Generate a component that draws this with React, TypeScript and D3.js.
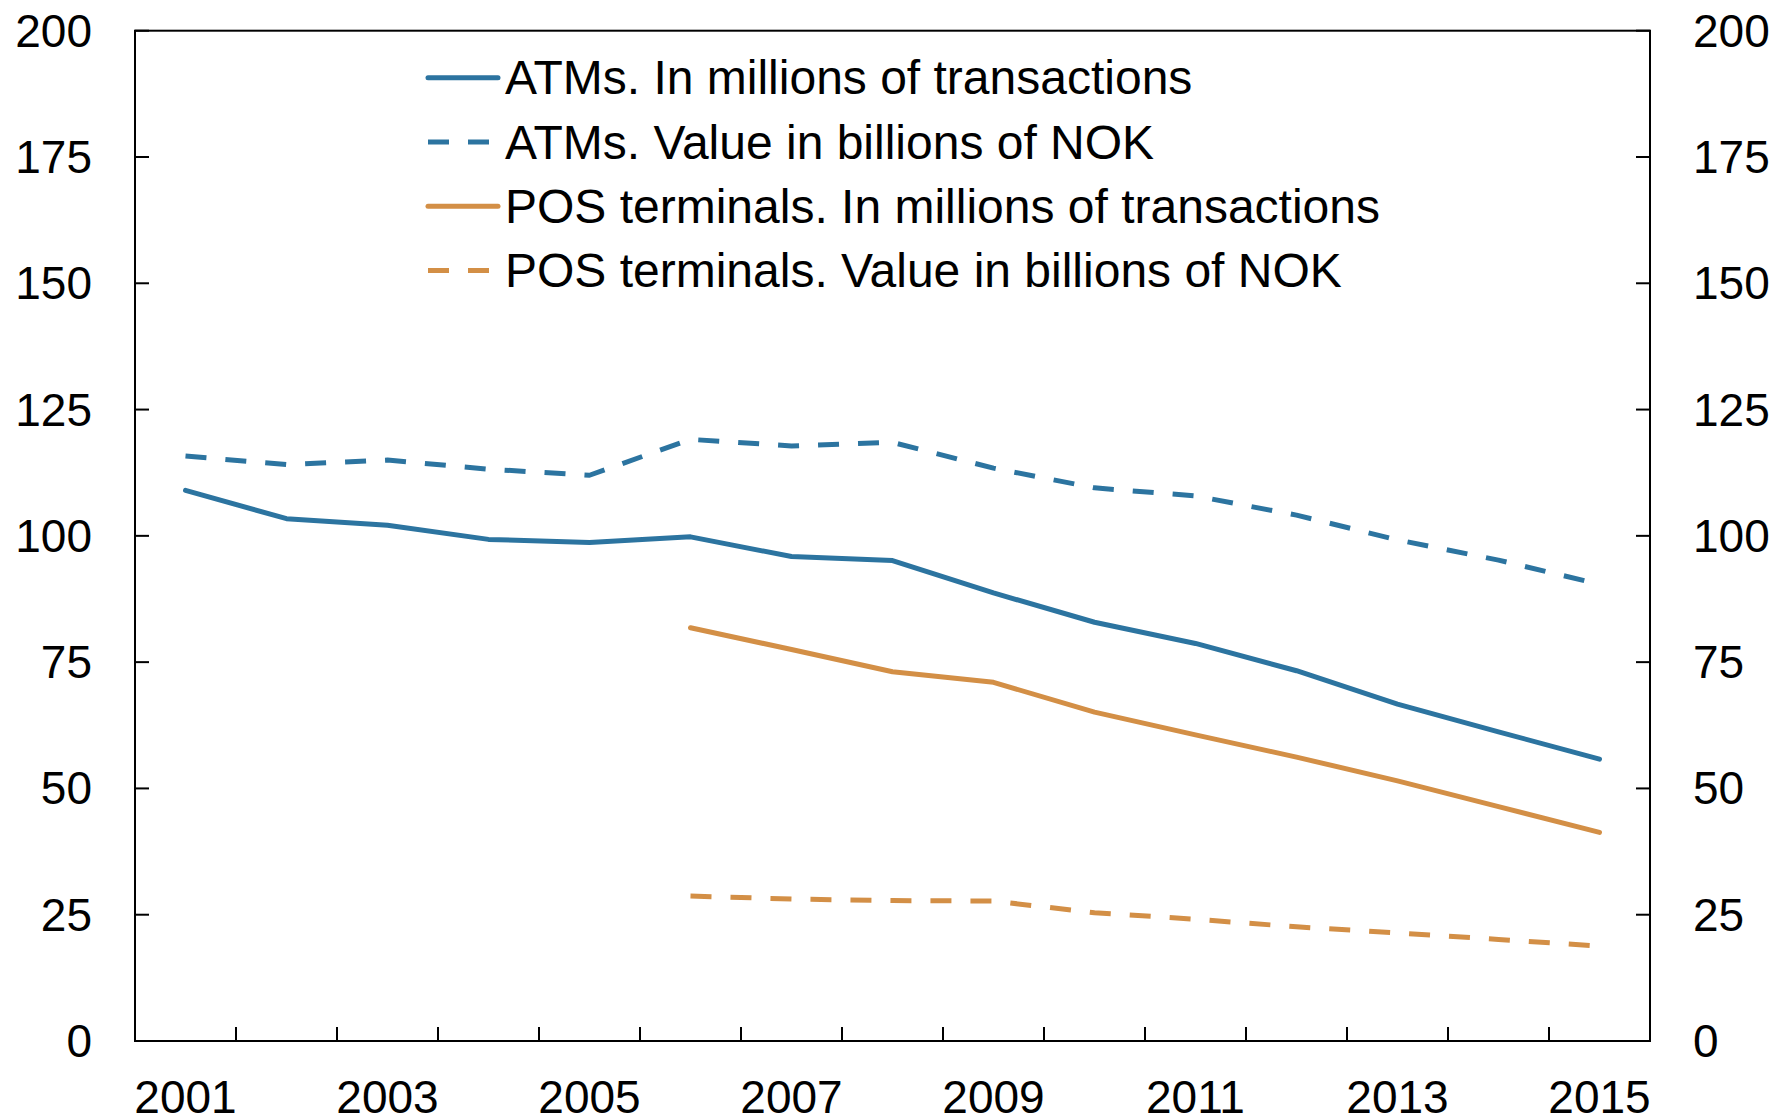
import React from "react";
import * as d3 from "d3";

const years = ["2001","2002","2003","2004","2005","2006","2007","2008","2009","2010","2011","2012","2013","2014","2015"];
const atmTransactions = [109.0,103.4,102.1,99.3,98.7,99.8,95.9,95.1,88.7,82.9,78.7,73.3,66.7,61.2,55.8];
const atmValue = [115.8,114.1,115.0,113.2,112.0,119.1,117.8,118.5,113.4,109.5,107.9,104.1,99.2,95.2,90.4];
const posTransactions: (number|null)[] = [null,null,null,null,null,81.8,77.5,73.1,71.0,65.1,60.6,56.2,51.5,46.4,41.3];
const posValue: (number|null)[] = [null,null,null,null,null,28.7,28.1,27.8,27.7,25.4,24.1,22.6,21.4,20.1,18.8];
const yTicks = [0,25,50,75,100,125,150,175,200];
const xLabelYears = ["2001","2003","2005","2007","2009","2011","2013","2015"];

const BLUE = "#2c74a0";
const ORANGE = "#d38f46";

const series = [
  { name: "ATMs. In millions of transactions", values: atmTransactions as (number|null)[], color: BLUE, dash: null as string|null },
  { name: "ATMs. Value in billions of NOK", values: atmValue as (number|null)[], color: BLUE, dash: "21,19" },
  { name: "POS terminals. In millions of transactions", values: posTransactions, color: ORANGE, dash: null },
  { name: "POS terminals. Value in billions of NOK", values: posValue, color: ORANGE, dash: "21,19" },
];

export default function App() {
  const W = 1775, H = 1120;
  const left = 135, right = 1650, top = 30.7, bottom = 1041;
  const x = d3.scaleBand<string>().domain(years).range([left, right]).padding(0);
  const y = d3.scaleLinear().domain([0, 200]).range([bottom, top]);
  const cx = (yr: string) => (x(yr) as number) + x.bandwidth() / 2;
  const line = d3.line<number|null>()
    .defined(d => d !== null)
    .x((_, i) => cx(years[i]))
    .y(d => y(d as number));
  const font = "'Liberation Sans', Arial, sans-serif";
  const tickLen = 14;
  const boundaries = years.slice(1).map(yr => x(yr) as number);

  return (
    <svg width={W} height={H} style={{ position: "absolute", left: 0, top: 0, background: "#fff" }}>
      <rect x={0} y={0} width={W} height={H} fill="#fff" />
      {/* frame */}
      <rect x={left} y={top} width={right - left} height={bottom - top} fill="none" stroke="#000" strokeWidth={2} />
      {/* y ticks */}
      {yTicks.map(t => (
        <g key={"yt" + t}>
          <line x1={left} x2={left + tickLen} y1={y(t)} y2={y(t)} stroke="#000" strokeWidth={2} />
          <line x1={right - tickLen} x2={right} y1={y(t)} y2={y(t)} stroke="#000" strokeWidth={2} />
          <text x={left - 43} y={y(t)} textAnchor="end" dominantBaseline="central" fontFamily={font} fontSize={46} fill="#000">{t}</text>
          <text x={right + 43} y={y(t)} textAnchor="start" dominantBaseline="central" fontFamily={font} fontSize={46} fill="#000">{t}</text>
        </g>
      ))}
      {/* x ticks */}
      {boundaries.map((b, i) => (
        <line key={"xt" + i} x1={b} x2={b} y1={bottom} y2={bottom - tickLen} stroke="#000" strokeWidth={2} />
      ))}
      {xLabelYears.map(yr => (
        <text key={"xl" + yr} x={cx(yr)} y={1113} textAnchor="middle" fontFamily={font} fontSize={46} fill="#000">{yr}</text>
      ))}
      {/* lines */}
      {series.map(s => (
        <path key={s.name} d={line(s.values) || ""} fill="none" stroke={s.color} strokeWidth={5}
          strokeDasharray={s.dash || undefined} strokeLinejoin="round" strokeLinecap={s.dash ? "butt" : "round"} />
      ))}
      {/* legend */}
      {series.map((s, i) => {
        const ly = 77.7 + i * 64.3;
        return (
          <g key={"lg" + i}>
            <line x1={428} x2={498} y1={ly} y2={ly} stroke={s.color} strokeWidth={5}
              strokeDasharray={s.dash || undefined} strokeLinecap={s.dash ? "butt" : "round"} />
            <text x={505} y={ly} dominantBaseline="central" fontFamily={font} fontSize={48} fill="#000">{s.name}</text>
          </g>
        );
      })}
    </svg>
  );
}
